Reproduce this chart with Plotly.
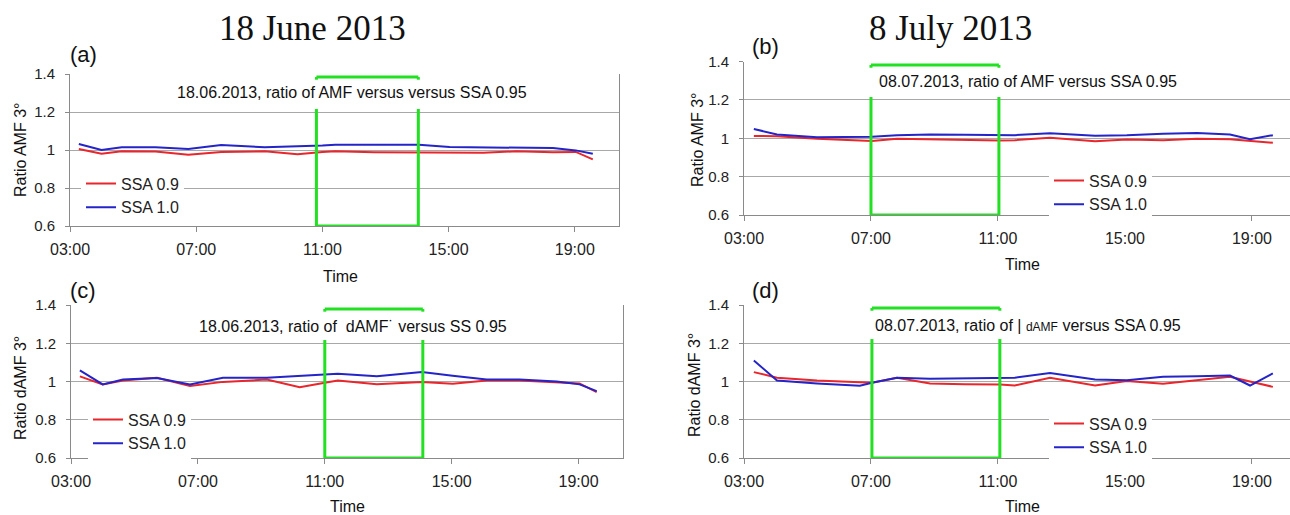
import plotly.graph_objects as go

# ---------------------------------------------------------------- data
# Hours of the day (decimal) at which the ratios were computed
june_hours = [3.28, 4.0, 4.64, 5.71, 6.75, 7.79, 9.17, 10.21, 11.0, 11.41,
              12.64, 14.06, 15.03, 16.1, 17.14, 18.31, 19.03, 19.57]
july_hours = [3.31, 4.04, 5.3, 6.65, 7.03, 7.82, 8.86, 9.95, 11.06, 11.53,
              12.64, 14.06, 15.06, 16.2, 17.27, 18.31, 18.94, 19.66]

# (a) 18 June, ratio AMF 3 deg
june_amf_ssa09 = [1.005, 0.98, 0.993, 0.992, 0.975, 0.99, 0.993, 0.978, 0.99, 0.993,
                  0.988, 0.988, 0.988, 0.986, 0.993, 0.988, 0.99, 0.951]
june_amf_ssa10 = [1.032, 1.0, 1.015, 1.014, 1.005, 1.026, 1.015, 1.018, 1.024, 1.028,
                  1.027, 1.028, 1.016, 1.013, 1.012, 1.01, 0.998, 0.98]
# (b) 8 July, ratio AMF 3 deg
july_amf_ssa09 = [1.012, 1.01, 0.997, 0.99, 0.986, 0.998, 0.995, 0.99, 0.988, 0.99,
                  1.002, 0.985, 0.993, 0.99, 0.998, 0.995, 0.987, 0.976]
july_amf_ssa10 = [1.048, 1.02, 1.005, 1.005, 1.008, 1.015, 1.02, 1.018, 1.016, 1.016,
                  1.026, 1.013, 1.015, 1.024, 1.028, 1.02, 0.995, 1.016]
# (c) 18 June, ratio dAMF 3 deg
june_damf_ssa09 = [1.027, 0.985, 1.005, 1.02, 0.976, 0.998, 1.01, 0.97, 0.993, 1.005,
                   0.985, 0.997, 0.988, 1.005, 1.005, 0.997, 0.99, 0.945]
june_damf_ssa10 = [1.058, 0.985, 1.01, 1.018, 0.985, 1.02, 1.02, 1.028, 1.034, 1.04,
                   1.027, 1.05, 1.03, 1.01, 1.01, 1.0, 0.985, 0.95]
# (d) 8 July, ratio dAMF 3 deg
july_damf_ssa09 = [1.049, 1.02, 1.005, 0.997, 0.993, 1.019, 0.99, 0.986, 0.984, 0.979,
                   1.019, 0.979, 1.002, 0.988, 1.005, 1.025, 1.0, 0.972]
july_damf_ssa10 = [1.11, 1.005, 0.99, 0.978, 0.993, 1.02, 1.015, 1.017, 1.019, 1.02,
                   1.045, 1.01, 1.007, 1.025, 1.027, 1.031, 0.979, 1.042]

series_names = ["SSA 0.9", "SSA 1.0"]
time_ticks = [3, 7, 11, 15, 19]
time_labels = ["03:00", "07:00", "11:00", "15:00", "19:00"]
ratio_ticks = [0.6, 0.8, 1.0, 1.2, 1.4]
ratio_labels = ["0.6", "0.8", "1", "1.2", "1.4"]

# ---------------------------------------------------------------- styling
W, H = 1290, 515
FONT = "Liberation Sans, Arial, Helvetica, sans-serif"
SERIF = "Liberation Serif, Times New Roman, serif"
RED = "#e8262c"
BLUE = "#2424c8"
GREEN = "#22e022"
GRID = "#a8a8a8"
AXIS = "#8a8a8a"


def px(x):
    return x / W


def py(y):
    return 1 - y / H


# panel: axis suffix, x pixel span, y pixel span, x range end, data,
# legend placement and the white area behind the legend
panels = [
    dict(ax="", xs=(70, 619), ys=(74, 226), xend=20.4, hours=june_hours,
         vals=(june_amf_ssa09, june_amf_ssa10), legend="legend",
         leg=(81, 166.5), legbox=(82, 218, 172, 212),
         box=(10.81, 14.04, 1.384, 1.216)),
    dict(ax="2", xs=(744, 1290), ys=(61.5, 215), xend=20.2, hours=july_hours,
         vals=(july_amf_ssa09, july_amf_ssa10), legend="legend2",
         leg=(1049, 163.5), legbox=(1052, 1287, 169, 209),
         box=(7.0, 11.03, 1.382, 1.215)),
    dict(ax="3", xs=(71, 623), ys=(305, 458), xend=20.4, hours=june_hours,
         vals=(june_damf_ssa09, june_damf_ssa10), legend="legend3",
         leg=(88, 402.5), legbox=(95, 227, 408, 448),
         box=(11.0, 14.09, 1.379, 1.217)),
    dict(ax="4", xs=(744, 1290), ys=(305, 458), xend=20.2, hours=july_hours,
         vals=(july_damf_ssa09, july_damf_ssa10), legend="legend4",
         leg=(1049, 406.5), legbox=(1052, 1287, 412, 452),
         box=(7.03, 11.06, 1.384, 1.222)),
]

fig = go.Figure()
shapes = []
legend_style = dict(bgcolor="white", borderwidth=0, xanchor="left", yanchor="top",
                    font=dict(family=FONT, size=16, color="#222"),
                    tracegroupgap=0, itemwidth=30)

for p in panels:
    xa = "x" + p["ax"]
    ya = "y" + p["ax"]
    for name, vals, col in zip(series_names, p["vals"], (RED, BLUE)):
        fig.add_trace(go.Scatter(
            x=p["hours"], y=vals, name=name, mode="lines",
            line=dict(color=col, width=2),
            xaxis=xa, yaxis=ya, legend=p["legend"],
        ))

    right_edge = p["xs"][1] < W
    xkey = "xaxis" + p["ax"]
    ykey = "yaxis" + p["ax"]
    fig.update_layout({
        xkey: dict(
            domain=[px(p["xs"][0]), px(p["xs"][1])], range=[3, p["xend"]],
            anchor=ya, tickvals=time_ticks, ticktext=time_labels,
            ticks="outside", ticklen=5, tickcolor=AXIS, showgrid=False,
            showline=True, linecolor=AXIS, linewidth=1, zeroline=False,
            tickfont=dict(family=FONT, size=16, color="#222"),
            ticklabelstandoff=4, automargin=False,
        ),
        ykey: dict(
            domain=[py(p["ys"][1]), py(p["ys"][0])], range=[0.6, 1.4],
            anchor=xa, tickvals=ratio_ticks, ticktext=ratio_labels,
            ticks="outside", ticklen=4, tickcolor=AXIS,
            showgrid=True, gridcolor=GRID, gridwidth=1,
            showline=True, linecolor=AXIS, linewidth=1, zeroline=False,
            mirror=right_edge, automargin=False, ticklabelstandoff=7,
            tickfont=dict(family=FONT, size=15, color="#222"),
        ),
        p["legend"]: dict(x=px(p["leg"][0]), y=py(p["leg"][1]), **legend_style),
    })

    # white panel behind the legend hides the gridline there
    lx0, lx1, ly0, ly1 = p["legbox"]
    shapes.append(dict(type="rect", xref="paper", yref="paper", layer="between",
                       x0=px(lx0), x1=px(lx1), y0=py(ly1), y1=py(ly0),
                       fillcolor="white", line=dict(width=0)))

    # green bracket marking the selected time window
    x0, x1, ytop, yv = p["box"]
    gl = dict(color=GREEN, width=3)
    ref = dict(xref=xa, yref=ya, type="line", line=gl)
    shapes += [
        dict(x0=x0, x1=x1, y0=ytop, y1=ytop, **ref),
        dict(x0=x0, x1=x0, y0=ytop, y1=ytop - 0.014, **ref),
        dict(x0=x1, x1=x1, y0=ytop, y1=ytop - 0.014, **ref),
        dict(x0=x0, x1=x0, y0=yv, y1=0.6, **ref),
        dict(x0=x1, x1=x1, y0=yv, y1=0.6, **ref),
        dict(x0=x0, x1=x1, y0=0.6, y1=0.6, **ref),
    ]

# text: headings, panel letters, in-plot captions and axis titles
ann = []


def text(x, y, s, size=16, family=FONT, angle=0):
    ann.append(dict(x=px(x), y=py(y), xref="paper", yref="paper", text=s,
                    showarrow=False, textangle=angle,
                    xanchor="center", yanchor="middle",
                    font=dict(family=family, size=size, color="#111")))


text(312, 28, "18 June 2013", size=35, family=SERIF)
text(950, 28, "8 July 2013", size=35, family=SERIF)

text(83, 55, "(a)", size=22)
text(765, 46, "(b)", size=22)
text(83, 290, "(c)", size=22)
text(765, 290, "(d)", size=22)

text(352, 93, "18.06.2013, ratio of AMF versus versus SSA 0.95", size=16)
text(1028, 81, "08.07.2013, ratio of AMF versus SSA 0.95", size=16)
text(353, 326, "18.06.2013, ratio of  dAMF\u02d9 versus SS 0.95", size=16)
text(1028, 325, "08.07.2013, ratio of | <span style='font-size:12px'>dAMF</span> versus SSA 0.95",
     size=16)

text(340, 276, "Time", size=16)
text(1022, 264, "Time", size=16)
text(347, 506, "Time", size=16)
text(1022, 506, "Time", size=16)

text(20, 150, "Ratio AMF 3°", size=16, angle=-90)
text(697, 140, "Ratio AMF 3°", size=16, angle=-90)
text(20, 388, "Ratio dAMF 3°", size=16, angle=-90)
text(694, 385, "Ratio dAMF 3°", size=16, angle=-90)

fig.update_layout(
    width=W, height=H, margin=dict(l=0, r=0, t=0, b=0, autoexpand=False),
    paper_bgcolor="white", plot_bgcolor="white",
    showlegend=True, shapes=shapes, annotations=ann,
)

fig.write_html("out.html")
